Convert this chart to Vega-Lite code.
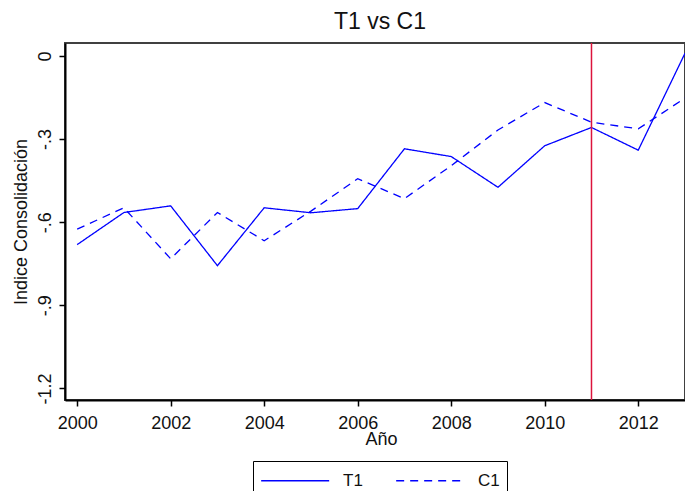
{
  "$schema": "https://vega.github.io/schema/vega-lite/v6.json",
  "autosize": "none",
  "width": 620,
  "height": 357,
  "padding": {"left": 65, "top": 43, "right": 0, "bottom": 91},
  "background": "white",
  "config": {
    "font": "Liberation Sans",
    "view": {"stroke": "#404040", "strokeWidth": 2},
    "axis": {"grid": false, "domainColor": "black", "domainWidth": 2, "tickColor": "black", "tickWidth": 1.5, "tickSize": 6, "labelColor": "#111", "titleColor": "#111", "labelFont": "Liberation Sans", "titleFont": "Liberation Sans", "titleFontWeight": "normal"},
    "legend": {"strokeColor": "black", "fillColor": "white", "padding": 7, "symbolType": "M-1,0H5", "symbolSize": 514, "symbolStrokeWidth": 1.5, "labelFontSize": 17, "labelFont": "Liberation Sans", "labelColor": "#111", "labelOffset": 58, "columnPadding": 30}
  },
  "title": {"text": "T1 vs C1", "fontSize": 23, "fontWeight": "normal", "font": "Liberation Sans", "color": "#111", "offset": 8, "dx": 5},
  "datasets": {
    "series": [
      {"year": 2000, "series": "T1", "value": -0.681},
      {"year": 2001, "series": "T1", "value": -0.565},
      {"year": 2002, "series": "T1", "value": -0.541},
      {"year": 2003, "series": "T1", "value": -0.757},
      {"year": 2004, "series": "T1", "value": -0.548},
      {"year": 2005, "series": "T1", "value": -0.566},
      {"year": 2006, "series": "T1", "value": -0.551},
      {"year": 2007, "series": "T1", "value": -0.335},
      {"year": 2008, "series": "T1", "value": -0.363},
      {"year": 2009, "series": "T1", "value": -0.474},
      {"year": 2010, "series": "T1", "value": -0.324},
      {"year": 2011, "series": "T1", "value": -0.258},
      {"year": 2012, "series": "T1", "value": -0.34},
      {"year": 2013, "series": "T1", "value": 0.01},
      {"year": 2000, "series": "C1", "value": -0.625},
      {"year": 2001, "series": "C1", "value": -0.548},
      {"year": 2002, "series": "C1", "value": -0.732},
      {"year": 2003, "series": "C1", "value": -0.565},
      {"year": 2004, "series": "C1", "value": -0.667},
      {"year": 2005, "series": "C1", "value": -0.56},
      {"year": 2006, "series": "C1", "value": -0.443},
      {"year": 2007, "series": "C1", "value": -0.515},
      {"year": 2008, "series": "C1", "value": -0.396},
      {"year": 2009, "series": "C1", "value": -0.267},
      {"year": 2010, "series": "C1", "value": -0.168},
      {"year": 2011, "series": "C1", "value": -0.239},
      {"year": 2012, "series": "C1", "value": -0.263},
      {"year": 2013, "series": "C1", "value": -0.152}
    ],
    "marker": [{"year": 2011}]
  },
  "layer": [
    {
      "data": {"name": "series"},
      "mark": {"type": "line", "strokeWidth": 1.3, "clip": true},
      "encoding": {
        "x": {
          "field": "year", "type": "quantitative",
          "scale": {"domain": [1999.74, 2013], "nice": false, "zero": false},
          "axis": {"values": [2000, 2002, 2004, 2006, 2008, 2010, 2012], "format": "d", "labelFontSize": 18, "labelPadding": 8, "title": "Año", "titleFontSize": 18, "titleX": 316, "titleY": 30, "titleBaseline": "top", "titleAlign": "center"}
        },
        "y": {
          "field": "value", "type": "quantitative",
          "scale": {"domain": [-1.242, 0.047], "nice": false, "zero": false},
          "axis": {"values": [0, -0.3, -0.6, -0.9, -1.2], "labelExpr": "replace(replace(format(datum.value, '.1~f'), '0.', '.'), '\u2212', '-')", "labelAngle": -90, "labelFontSize": 18, "labelPadding": 5, "title": "Indice Consolidación", "titleFontSize": 18, "titlePadding": 6}
        },
        "color": {
          "field": "series", "type": "nominal",
          "scale": {"domain": ["T1", "C1"], "range": ["#0000ff", "#0000ff"]},
          "legend": {"title": null, "orient": "none", "legendX": 188, "legendY": 418, "direction": "horizontal"}
        },
        "strokeDash": {
          "field": "series", "type": "nominal",
          "scale": {"domain": ["T1", "C1"], "range": [[1, 0], [8, 6]]},
          "legend": {"title": null, "orient": "none", "legendX": 188, "legendY": 418, "direction": "horizontal"}
        }
      }
    },
    {
      "data": {"name": "marker"},
      "mark": {"type": "rule", "color": "#dc143c", "strokeWidth": 1.5},
      "encoding": {"x": {"field": "year", "type": "quantitative"}}
    }
  ]
}
